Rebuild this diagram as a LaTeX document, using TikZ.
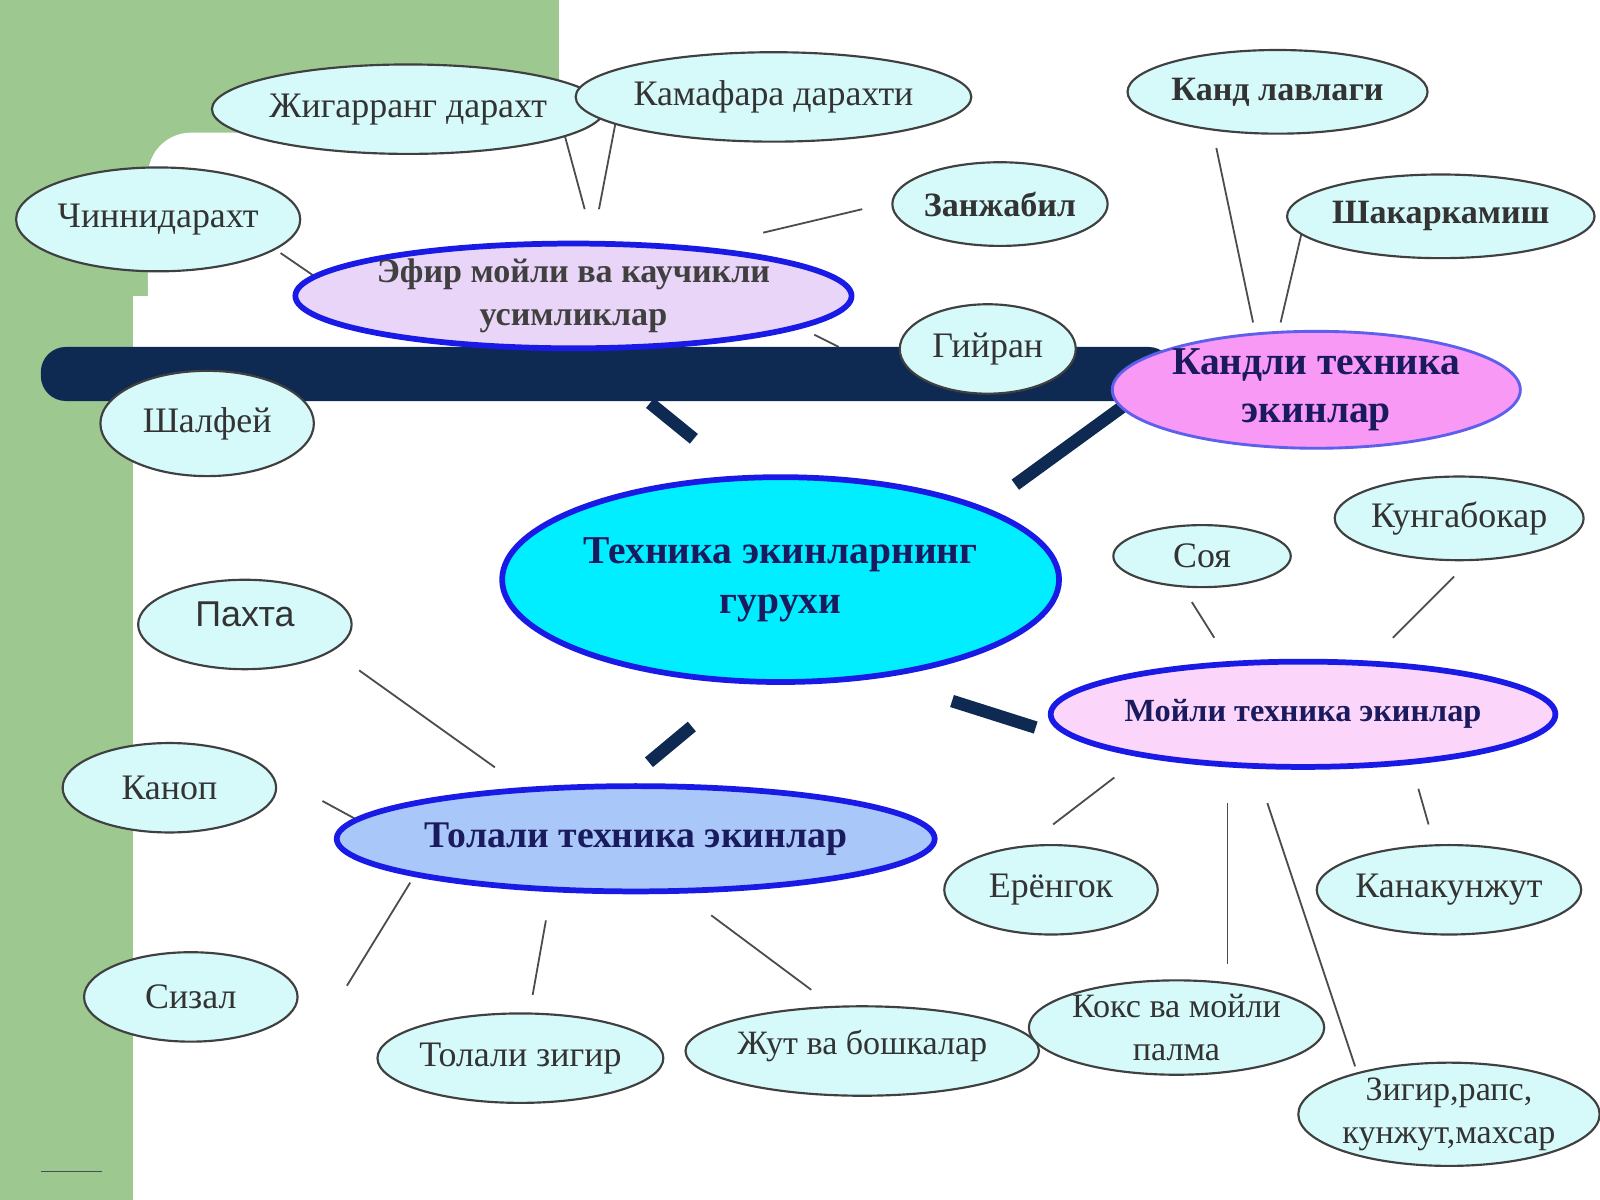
\documentclass[tikz,border=0pt]{standalone}
\usepackage{fontspec}
\setmainfont{Liberation Serif}
\setsansfont{Liberation Sans}
\usetikzlibrary{shapes.geometric}
\definecolor{navy}{HTML}{0F2A52}
\definecolor{bg}{HTML}{9DC890}
\definecolor{leaffill}{HTML}{D6FAFA}
\definecolor{maincyan}{HTML}{00EEFF}
\definecolor{efirfill}{HTML}{E8D5F7}
\definecolor{kandfill}{HTML}{F799F5}
\definecolor{moyfill}{HTML}{FCD5FB}
\definecolor{tolfill}{HTML}{A9C7F8}
\definecolor{hubblue}{HTML}{1A1AE6}
\definecolor{hubtext}{HTML}{1A1A5E}
\begin{document}
\begin{tikzpicture}[x=0.01cm,y=-0.01cm,
 sz/.style 2 args={minimum width=#1*0.00707cm,minimum height=#2*0.00707cm},
 leaf/.style={ellipse,draw=black!75,line width=0.6pt,fill=leaffill,inner sep=0pt,align=center,text=black!80,font=\fontsize{10pt}{12.5pt}\selectfont},
 hub/.style={ellipse,draw=hubblue,line width=1.6pt,inner sep=0pt,align=center,text=hubtext,font=\bfseries\fontsize{10.5pt}{13pt}\selectfont},
 thin/.style={black!70,line width=0.5pt}]
\useasboundingbox (0,0) rectangle (1568,1176);
\fill[bg] (0,0) rectangle (548,1176);
\fill[white,rounded corners=12pt] (145,130) rectangle (1600,1300);
\fill[white] (130,290) rectangle (300,1176);
\fill[white] (548,0) rectangle (1568,140);
\fill[navy,rounded corners=7pt] (40,340) rectangle (1150,393);
\coordinate (s1) at (40,1148); \coordinate (s2) at (100,1148);
\draw[black!70] (s1) -- (s2);
% thick connectors
\coordinate (t1) at (637,395); \coordinate (t2) at (680,430);
\coordinate (t3) at (995,475); \coordinate (t4) at (1105,395);
\coordinate (t5) at (933,687); \coordinate (t6) at (1015,713);
\coordinate (t7) at (678,712); \coordinate (t8) at (636,747);
\draw[navy,line width=3.5pt] (t1)--(t2) (t3)--(t4) (t5)--(t6) (t7)--(t8);
% thin connectors
\foreach \a/\b/\c/\d in {550/120/573/205, 610/85/587/205, 275/248/310/272, 748/228/845/205, 798/328/822/340,
 1192/145/1228/316, 1278/218/1255/316, 1168/590/1190/625, 1425/565/1365/625, 352/657/485/752, 316/785/362/810,
 402/865/340/966, 535/902/522/975, 697/897/795/970, 1092/762/1032/808, 1390/773/1400/808, 1203/787/1203/945, 1242/787/1328/1045}
 {\coordinate (p) at (\a,\b); \coordinate (q) at (\c,\d); \draw[thin] (p)--(q);}
% leaves
\node[leaf,sz={296}{124}] (jig) at (400,107) {Жигарранг дарахт};
\node[leaf,sz={296}{124}] (kam) at (758,95) {Камафара дарахти};
\node[leaf,sz={262}{144}] (chin) at (155,215) {Чиннидарахт};
\node[leaf,sz={270}{116},font=\bfseries\fontsize{9.5pt}{12pt}\selectfont] (zan) at (980,200) {Занжабил};
\node[leaf,sz={272}{116},font=\bfseries\fontsize{9.5pt}{12pt}\selectfont] (kand) at (1252,90) {Канд лавлаги};
\node[leaf,sz={272}{116},font=\bfseries\fontsize{9.5pt}{12pt}\selectfont] (shak) at (1412,212) {Шакаркамиш};
\node[hub,fill=efirfill,sz={520}{144},text=black!75,font=\bfseries\fontsize{9.5pt}{12pt}\selectfont] (efir) at (562,290) {Эфир мойли ва каучикли\\усимликлар};
\node[leaf,sz={244}{124}] (giy) at (968,342) {\raisebox{-6pt}{Гийран}};
\node[hub,fill=kandfill,draw=hubblue!70,line width=0.8pt,sz={370}{130},font=\bfseries\fontsize{11pt}{13.5pt}\selectfont] (kandli) at (1290,382) {Кандли техника\\экинлар};
\node[leaf,sz={296}{146}] (shal) at (203,415) {Шалфей};
\node[hub,fill=maincyan,sz={556}{284},font=\bfseries\fontsize{11pt}{14pt}\selectfont] (main) at (765,568) {Техника экинларнинг\\гурухи};
\node[leaf,sz={246}{86}] (soya) at (1178,545) {Соя};
\node[leaf,sz={270}{116}] (kun) at (1430,508) {Кунгабокар};
\node[leaf,sz={296}{124},font=\sffamily\fontsize{10pt}{12pt}\selectfont] (pax) at (240,612) {\raisebox{6pt}{Пахта}};
\node[hub,fill=moyfill,sz={520}{146},font=\bfseries\fontsize{9pt}{11pt}\selectfont] (moy) at (1277,700) {Мойли техника экинлар};
\node[leaf,sz={296}{124}] (kan) at (166,772) {Каноп};
\node[hub,fill=tolfill,sz={520}{146},font=\bfseries\fontsize{10.5pt}{13pt}\selectfont] (tol) at (623,822) {Толали техника экинлар};
\node[leaf,sz={296}{124}] (yer) at (1030,872) {Ерёнгок};
\node[leaf,sz={286}{124}] (kanak) at (1420,872) {Канакунжут};
\node[leaf,sz={296}{124}] (siz) at (187,977) {Сизал};
\node[leaf,sz={296}{124}] (tz) at (510,1037) {Толали зигир};
\node[leaf,sz={296}{124},font=\fontsize{9.5pt}{12pt}\selectfont] (jut) at (845,1030) {\raisebox{5pt}{Жут ва бошкалар}};
\node[leaf,sz={296}{124},font=\fontsize{9.5pt}{12pt}\selectfont] (koks) at (1153,1007) {Кокс ва мойли\\палма};
\node[leaf,sz={296}{124},font=\fontsize{9.5pt}{12pt}\selectfont] (zig) at (1420,1092) {Зигир,рапс,\\кунжут,махсар};
\end{tikzpicture}
\end{document}
